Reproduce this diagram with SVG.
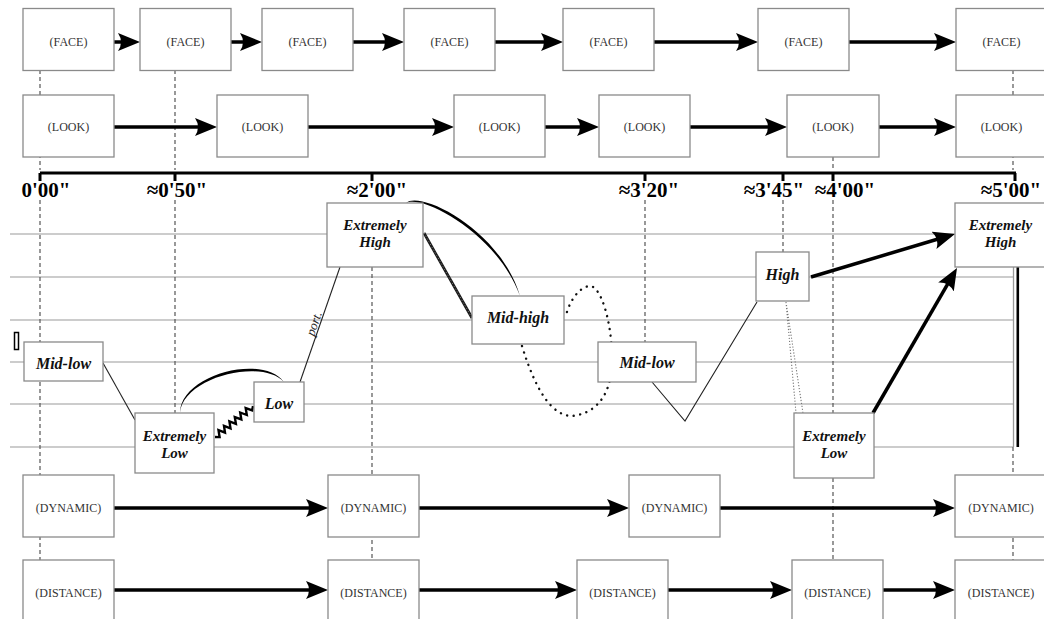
<svg xmlns="http://www.w3.org/2000/svg" width="1044" height="619" viewBox="0 0 1044 619">
  <style>
    .box { fill: #ffffff; stroke: #8a8a8a; stroke-width: 1.3; }
    .row { font-family: "Liberation Serif", "Times New Roman", serif; font-size: 12px; fill: #333; text-anchor: middle; }
    .lvl { font-family: "Liberation Serif", "Times New Roman", serif; font-size: 16px; font-weight: bold; font-style: italic; fill: #111; text-anchor: middle; }
    .lvl2 { font-family: "Liberation Serif", "Times New Roman", serif; font-size: 15px; font-weight: bold; font-style: italic; fill: #111; text-anchor: middle; }
    .time { font-family: "Liberation Serif", "Times New Roman", serif; font-size: 21px; font-weight: bold; fill: #000; text-anchor: middle; }
    .guide { stroke: #555; stroke-width: 1.2; stroke-dasharray: 4 3; fill: none; }
    .staff { stroke: #9a9a9a; stroke-width: 1.2; fill: none; }
    .flow { stroke: #000; stroke-width: 3.5; fill: none; marker-end: url(#head); }
    .thin { stroke: #222; stroke-width: 1.1; fill: none; }
  </style>
  <defs>
    <marker id="head" markerUnits="userSpaceOnUse" markerWidth="24" markerHeight="20" refX="14" refY="9" orient="auto">
      <path d="M0,0 L22,9 L0,18 Q6,9 0,0 Z" fill="#000"/>
    </marker>
  </defs>

  <rect width="1044" height="619" fill="#ffffff"/>

  <!-- staff lines -->
  <g id="staff">
    <path class="staff" d="M10 234 H1013 M10 277 H1013 M10 320 H1013 M10 362 H1013 M10 404 H1013 M10 447 H1013"/>
    <rect x="14.5" y="332.5" width="4" height="17" fill="none" stroke="#000" stroke-width="1.5"/>
    <line x1="1013.5" y1="267" x2="1013.5" y2="447" stroke="#999" stroke-width="1.3"/>
    <line x1="1017.8" y1="267" x2="1017.8" y2="447" stroke="#000" stroke-width="2.6"/>
  </g>

  <!-- time guides -->
  <g id="guides">
    <path class="guide" d="M40 70 V170 M40 200 V619"/>
    <path class="guide" d="M175 70 V170 M175 200 V413"/>
    <path class="guide" d="M372 267 V619"/>
    <path class="guide" d="M645 200 V342"/>
    <path class="guide" d="M783 200 V252"/>
    <path class="guide" d="M833 157 V170 M833 200 V413 M833 478 V560"/>
    <path class="guide" d="M1013 70 V170 M1013 447 V619"/>
  </g>

  <!-- time axis -->
  <g id="axis">
    <path d="M40 173 H1016" stroke="#000" stroke-width="3" fill="none"/>
    <path d="M40 173 V181 M175 173 V181 M372 173 V181 M645 173 V181 M783 173 V181 M833 173 V181 M1015 173 V181" stroke="#000" stroke-width="3" fill="none"/>
    <text class="time" x="46" y="197">0'00"</text>
    <text class="time" x="177" y="197">≈0'50"</text>
    <text class="time" x="377" y="197">≈2'00"</text>
    <text class="time" x="649" y="197">≈3'20"</text>
    <text class="time" x="774" y="197">≈3'45"</text>
    <text class="time" x="845" y="197">≈4'00"</text>
    <text class="time" x="1011" y="197">≈5'00"</text>
  </g>

  <!-- connectors -->
  <g id="connectors">
    <!-- FACE row -->
    <path class="flow" d="M114 42 H132"/>
    <path class="flow" d="M231 42 H254"/>
    <path class="flow" d="M353 42 H396"/>
    <path class="flow" d="M495 42 H555"/>
    <path class="flow" d="M654 42 H750"/>
    <path class="flow" d="M849 42 H948"/>
    <!-- LOOK row -->
    <path class="flow" d="M114 127 H209"/>
    <path class="flow" d="M308 127 H446"/>
    <path class="flow" d="M545 127 H591"/>
    <path class="flow" d="M690 127 H779"/>
    <path class="flow" d="M879 127 H948"/>
    <!-- DYNAMIC row -->
    <path class="flow" d="M114 508 H320"/>
    <path class="flow" d="M419 508 H621"/>
    <path class="flow" d="M720 508 H947"/>
    <!-- DISTANCE row -->
    <path class="flow" d="M114 590 H320"/>
    <path class="flow" d="M419 590 H569"/>
    <path class="flow" d="M668 590 H784"/>
    <path class="flow" d="M883 590 H947"/>

    <!-- level contour -->
    <path class="thin" d="M103 363 L135 420"/>
    <polyline fill="none" stroke="#000" stroke-width="2.4" stroke-linejoin="miter" points="215,437 219.6,437.1 218.5,430.2 225,432.7 224,425.8 230.5,428.3 229.4,421.4 235.9,423.8 234.8,417 241.3,419.4 240.2,412.5 246.8,415 245.7,408.1 252.2,410.5 253,406"/>
    <path d="M180 413 C180 375, 262 353, 284 382 C262 358, 183 377, 180 413 Z" fill="#000"/>
    <path class="thin" d="M300 382 L340 267"/>
    <text x="318" y="325" transform="rotate(-70.8 318 325)" font-family="'Liberation Serif', 'Times New Roman', serif" font-size="13" font-style="italic" fill="#222" text-anchor="middle">port.</text>
    <path d="M406 203 C420 190, 500 229, 520 296 C497 233, 422 194, 406 203 Z" fill="#000"/>
    <!-- trill: dark cord with light twists -->
    <path d="M424 233 L472 318" stroke="#1a1a1a" stroke-width="2.8" fill="none"/>
    <path d="M424 233 L472 318" stroke="#9a9a9a" stroke-width="0.8" stroke-dasharray="1 2.2" fill="none"/>
    <path d="M522 346 C540 405, 560 420, 578 415 C600 410, 612 390, 612 360 C612 320, 600 284, 589 286 C577 288, 568 305, 566 316" fill="none" stroke="#111" stroke-width="2.4" stroke-linecap="round" stroke-dasharray="0.1 6.5"/>
    <path class="thin" d="M652 382 L685 421 L757 302"/>
    <path d="M786 302 L796 413 M786 302 L803 413" fill="none" stroke="#777" stroke-width="1.1" stroke-dasharray="1.2 1.8"/>
    <path class="flow" d="M811 277 L947.3 236.3"/>
    <path class="flow" d="M873 413 L953 274.9"/>
  </g>

  <!-- FACE row -->
  <g id="face-1"><rect class="box" x="23" y="8.5" width="91" height="62"/><text class="row" x="68.5" y="46">(FACE)</text></g>
  <g id="face-2"><rect class="box" x="140" y="8.5" width="91" height="62"/><text class="row" x="185.5" y="46">(FACE)</text></g>
  <g id="face-3"><rect class="box" x="262" y="8.5" width="91" height="62"/><text class="row" x="307.5" y="46">(FACE)</text></g>
  <g id="face-4"><rect class="box" x="404" y="8.5" width="91" height="62"/><text class="row" x="449.5" y="46">(FACE)</text></g>
  <g id="face-5"><rect class="box" x="563" y="8.5" width="91" height="62"/><text class="row" x="608.5" y="46">(FACE)</text></g>
  <g id="face-6"><rect class="box" x="758" y="8.5" width="91" height="62"/><text class="row" x="803.5" y="46">(FACE)</text></g>
  <g id="face-7"><rect class="box" x="956" y="8.5" width="91" height="62"/><text class="row" x="1001.5" y="46">(FACE)</text></g>

  <!-- LOOK row -->
  <g id="look-1"><rect class="box" x="23" y="95" width="91" height="62"/><text class="row" x="68.5" y="131">(LOOK)</text></g>
  <g id="look-2"><rect class="box" x="217" y="95" width="91" height="62"/><text class="row" x="262.5" y="131">(LOOK)</text></g>
  <g id="look-3"><rect class="box" x="454" y="95" width="91" height="62"/><text class="row" x="499.5" y="131">(LOOK)</text></g>
  <g id="look-4"><rect class="box" x="599" y="95" width="91" height="62"/><text class="row" x="644.5" y="131">(LOOK)</text></g>
  <g id="look-5"><rect class="box" x="787" y="95" width="92" height="62"/><text class="row" x="833" y="131">(LOOK)</text></g>
  <g id="look-6"><rect class="box" x="956" y="95" width="91" height="62"/><text class="row" x="1001.5" y="131">(LOOK)</text></g>

  <!-- level nodes -->
  <g id="mid-low-1"><rect class="box" x="24" y="342" width="79" height="39"/><text class="lvl" x="63.5" y="369">Mid-low</text></g>
  <g id="extremely-low-1"><rect class="box" x="135" y="413" width="79" height="60"/><text class="lvl2" x="174.5" y="441">Extremely</text><text class="lvl2" x="174.5" y="458">Low</text></g>
  <g id="low"><rect class="box" x="254" y="382" width="50" height="40"/><text class="lvl" x="279" y="409">Low</text></g>
  <g id="extremely-high-1"><rect class="box" x="327" y="203" width="96" height="64"/><text class="lvl2" x="375" y="230">Extremely</text><text class="lvl2" x="375" y="247">High</text></g>
  <g id="mid-high"><rect class="box" x="472" y="296" width="92" height="48"/><text class="lvl" x="518" y="323">Mid-high</text></g>
  <g id="mid-low-2"><rect class="box" x="598" y="342" width="98" height="40"/><text class="lvl" x="647" y="368">Mid-low</text></g>
  <g id="high"><rect class="box" x="756" y="252" width="53" height="49"/><text class="lvl" x="782.5" y="280">High</text></g>
  <g id="extremely-low-2"><rect class="box" x="794" y="413" width="80" height="65"/><text class="lvl2" x="834" y="441">Extremely</text><text class="lvl2" x="834" y="458">Low</text></g>
  <g id="extremely-high-2"><rect class="box" x="955" y="203" width="92" height="64"/><text class="lvl2" x="1000.5" y="230">Extremely</text><text class="lvl2" x="1000.5" y="247">High</text></g>

  <!-- DYNAMIC row -->
  <g id="dynamic-1"><rect class="box" x="23" y="475" width="91" height="62"/><text class="row" x="68.5" y="512">(DYNAMIC)</text></g>
  <g id="dynamic-2"><rect class="box" x="328" y="475" width="91" height="62"/><text class="row" x="373.5" y="512">(DYNAMIC)</text></g>
  <g id="dynamic-3"><rect class="box" x="629" y="475" width="91" height="62"/><text class="row" x="674.5" y="512">(DYNAMIC)</text></g>
  <g id="dynamic-4"><rect class="box" x="955" y="475" width="92" height="62"/><text class="row" x="1001" y="512">(DYNAMIC)</text></g>

  <!-- DISTANCE row -->
  <g id="distance-1"><rect class="box" x="23" y="560" width="91" height="62"/><text class="row" x="68.5" y="597">(DISTANCE)</text></g>
  <g id="distance-2"><rect class="box" x="328" y="560" width="91" height="62"/><text class="row" x="373.5" y="597">(DISTANCE)</text></g>
  <g id="distance-3"><rect class="box" x="577" y="560" width="91" height="62"/><text class="row" x="622.5" y="597">(DISTANCE)</text></g>
  <g id="distance-4"><rect class="box" x="792" y="560" width="91" height="62"/><text class="row" x="837.5" y="597">(DISTANCE)</text></g>
  <g id="distance-5"><rect class="box" x="955" y="560" width="92" height="62"/><text class="row" x="1001" y="597">(DISTANCE)</text></g>
</svg>
